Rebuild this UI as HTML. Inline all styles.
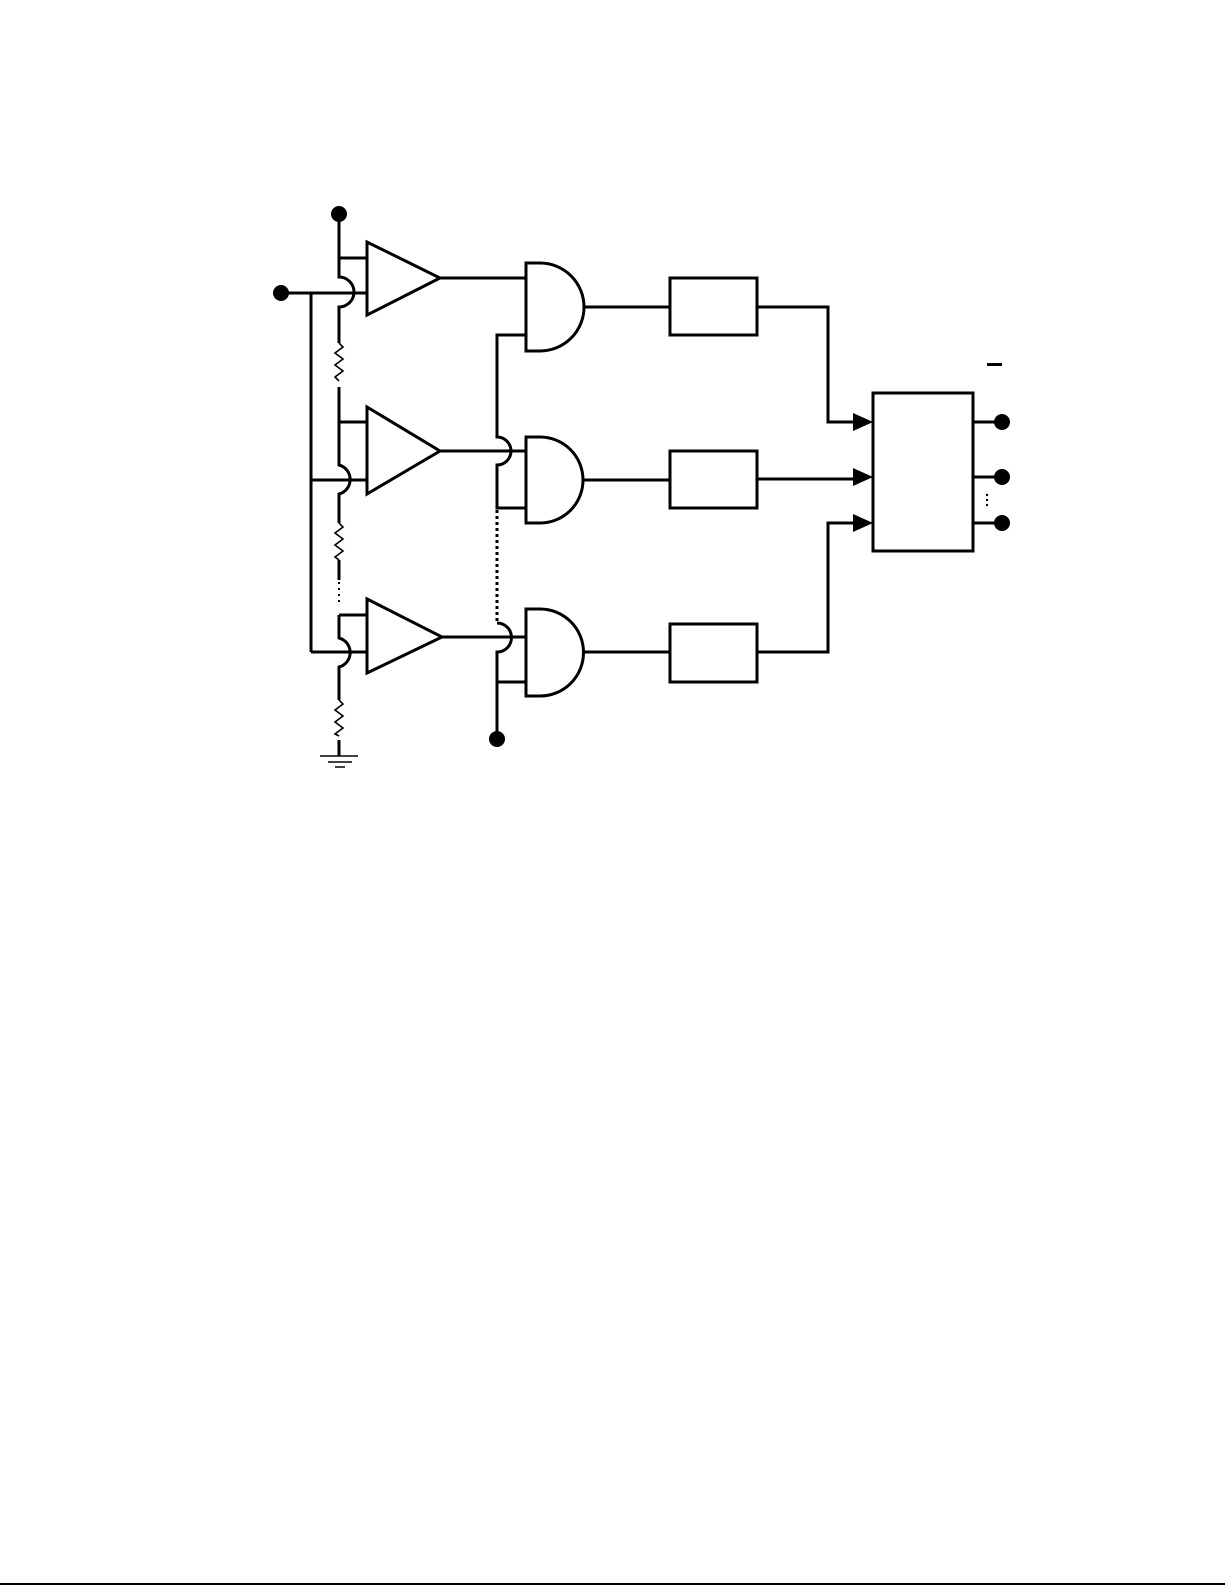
<!DOCTYPE html>
<html><head><meta charset="utf-8"><style>
html,body{margin:0;padding:0;background:#fff;}
svg{display:block;}
</style></head><body>
<svg width="1225" height="1585" viewBox="0 0 1225 1585" xmlns="http://www.w3.org/2000/svg">
<g fill="none" stroke="#000" stroke-width="3" stroke-linejoin="miter">
<path d="M339,214 V277 A15,15 0 0 1 339,307 V343"/>
<path d="M339,343 l4,4 l-8,6 l8,6 l-8,6 l8,6 l-8,6 l4,4" stroke-width="1.6"/>
<path d="M339,387 V465 A15,15 0 0 1 339,494 V523"/>
<path d="M339,523 l4,4 l-8,6 l8,6 l-8,6 l8,6 l-8,6 l4,3" stroke-width="1.6"/>
<path d="M339,560 V580"/>
<path d="M339,582 V605" stroke-width="2" stroke-dasharray="2,4"/>
<path d="M339,615 V638 A15,15 0 0 1 339,667 V700"/>
<path d="M339,700 l4,4 l-8,6 l8,6 l-8,6 l8,6 l-8,6 l4,2" stroke-width="1.6"/>
<path d="M339,740 V756"/>
<path d="M320,756 H358 M328,762 H352 M335,767 H345" stroke-width="1.6"/>
<path d="M339,258 H367 M339,422 H367 M339,615 H367"/>
<path d="M281,293 H367 M311,293 V652 M311,480 H367 M311,652 H367"/>
<path d="M367,242 L367,315 L440,278 Z"/>
<path d="M367,407 L367,494 L440,451 Z"/>
<path d="M367,599 L367,673 L442,637 Z"/>
<path d="M440,278 H526"/>
<path d="M440,451 H526"/>
<path d="M442,637 H526"/>
<path d="M526,335 H497 V437 A14,14 0 0 1 497,465 V508 H526"/>
<path d="M497,510 V621" stroke-width="3" stroke-dasharray="3,3"/>
<path d="M497,623 A14.5,14.5 0 0 1 497,652 V739 M497,682 H526"/>
<path d="M526,263 H540 A44,44 0 0 1 540,351 H526 Z"/>
<path d="M526,437 H540 A43,43 0 0 1 540,523 H526 Z"/>
<path d="M526,609 H540 A43.5,43.5 0 0 1 540,696 H526 Z"/>
<path d="M584,307 H670 M583,480 H670 M583,652 H670"/>
<rect x="670" y="278" width="87" height="57"/>
<rect x="670" y="451" width="87" height="57"/>
<rect x="670" y="624" width="87" height="58"/>
<path d="M757,307 H828 V422 H855"/>
<path d="M757,479 H855"/>
<path d="M757,652 H828 V523 H855"/>
<rect x="873" y="393" width="100" height="158"/>
<path d="M973,422 H1000 M973,477 H1000 M973,523 H1000"/>
</g>
<g fill="#000">
<polygon points="853,413 873,422 853,431"/>
<polygon points="853,468 873,477 853,486"/>
<polygon points="853,514 873,523 853,532"/>
<circle cx="339" cy="214" r="8"/>
<circle cx="281" cy="293" r="8"/>
<circle cx="497" cy="739" r="8"/>
<circle cx="1002" cy="422" r="8"/>
<circle cx="1002" cy="477" r="8"/>
<circle cx="1002" cy="523" r="8"/>
<circle cx="987" cy="495" r="1.2"/>
<circle cx="987" cy="500" r="1.2"/>
<circle cx="987" cy="505" r="1.2"/>
<rect x="987" y="363" width="15" height="3"/>
<rect x="0" y="1583" width="1225" height="2"/>
</g>
</svg>
</body></html>
